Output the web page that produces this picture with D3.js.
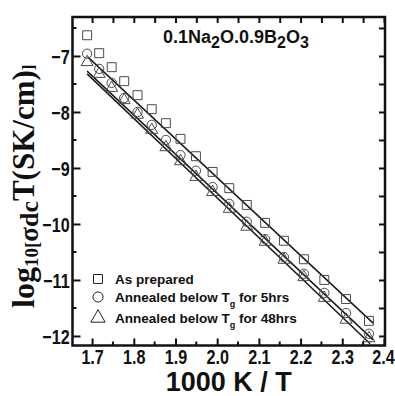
<!DOCTYPE html>
<html>
<head>
<meta charset="utf-8">
<script src="https://cdn.jsdelivr.net/npm/d3@7"></script>
<style>
  body { margin: 0; background: #fff; }
  svg { display: block; }
  .tick text { font-family: "Liberation Sans", Arial, sans-serif; font-weight: bold; font-size: 17px; fill: #111; }
</style>
</head>
<body>
<div id="chart"></div>
<script>
// 1000/T values (same temperatures for all three samples)
const invT = [1.688, 1.717, 1.747, 1.777, 1.809, 1.843, 1.877, 1.912, 1.949,
              1.989, 2.029, 2.071, 2.115, 2.160, 2.208, 2.257, 2.309, 2.364]

const asPrepared = [-6.63, -6.95, -7.20, -7.45, -7.70, -7.95, -8.20, -8.48, -8.79,
                    -9.07, -9.36, -9.66, -9.98, -10.30, -10.63, -11.00, -11.34, -11.73]
const annealed5 = [-6.96, -7.23, -7.48, -7.75, -8.00, -8.23, -8.50, -8.77, -9.05,
                   -9.34, -9.64, -9.96, -10.27, -10.59, -10.89, -11.23, -11.59, -11.96]
const annealed48 = [-7.11, -7.32, -7.57, -7.79, -8.05, -8.32, -8.63, -8.88, -9.16,
                    -9.43, -9.73, -10.05, -10.32, -10.64, -10.95, -11.32, -11.71, -12.04]

// straight-line fits: [x0, x1] and [y0, y1]
const fitX = [[1.690, 2.374], [1.688, 2.374], [1.688, 2.367]]
const fitY = [[-7.02, -11.77], [-7.27, -12.07], [-7.32, -12.14]]

const xMajor = [1.7, 1.8, 1.9, 2.0, 2.1, 2.2, 2.3, 2.4]
const xMinor = [1.75, 1.85, 1.95, 2.05, 2.15, 2.25, 2.35]
const yMajor = [-7, -8, -9, -10, -11, -12]
const yMinor = [-6.5, -7.5, -8.5, -9.5, -10.5, -11.5]

const legendLabels = ['As prepared', 'Annealed below T|g| for 5hrs', 'Annealed below T|g| for 48hrs']

// config
const w = 395, h = 396
const m = {left: 72.5, right: 385, top: 17, bottom: 345.5}

const x = d3.scaleLinear().domain([1.653, 2.4025]).range([m.left, m.right])
const y = d3.scaleLinear().domain([-12.17, -6.304]).range([m.bottom, m.top])

const svg = d3.select('#chart').append('svg')
    .attr('width', w).attr('height', h)

const markColour = '#4a4a4a'
const symbols = [d3.symbolSquare, d3.symbolCircle, d3.symbolTriangle]
const symSize = [80, 68, 62]
const series = [asPrepared, annealed5, annealed48]

// fit lines
const line = d3.line().x(d => x(d[0])).y(d => y(d[1]))
fitX.forEach((fx, i) => {
    svg.append('path')
        .attr('d', line([[fx[0], fitY[i][0]], [fx[1], fitY[i][1]]]))
        .attr('fill', 'none')
        .attr('stroke', '#1a1a1a')
        .attr('stroke-width', 1.5)
})

// points
series.forEach((vals, i) => {
    svg.append('g').selectAll('path')
        .data(vals)
        .join('path')
        .attr('transform', (d, j) => `translate(${x(invT[j])},${y(d)})`)
        .attr('d', d3.symbol().type(symbols[i]).size(symSize[i]))
        .attr('fill', 'none')
        .attr('stroke', markColour)
        .attr('stroke-width', 1)
})

// axes (ticks point inwards)
const bottomAxis = svg.append('g')
    .attr('transform', `translate(0,${m.bottom})`)
    .call(d3.axisBottom(x).tickValues(xMajor).tickSize(-7).tickPadding(3)
        .tickFormat(d3.format('.1f')))
bottomAxis.append('g').selectAll('line')
    .data(xMinor).join('line')
    .attr('x1', d => x(d)).attr('x2', d => x(d))
    .attr('y1', 0).attr('y2', -4)

const leftAxis = svg.append('g')
    .attr('transform', `translate(${m.left},0)`)
    .call(d3.axisLeft(y).tickValues(yMajor).tickSize(-8).tickPadding(3)
        .tickFormat(d3.format('d')))
leftAxis.append('g').selectAll('line')
    .data(yMinor).join('line')
    .attr('x1', 0).attr('x2', 4)
    .attr('y1', d => y(d)).attr('y2', d => y(d))

svg.append('g')
    .attr('transform', `translate(0,${m.top})`)
    .call(d3.axisTop(x).tickValues(xMajor.concat(xMinor)).tickSize(-6).tickFormat(''))
svg.append('g')
    .attr('transform', `translate(${m.right},0)`)
    .call(d3.axisRight(y).tickValues(yMajor.concat(yMinor)).tickSize(-6).tickFormat(''))

svg.selectAll('.domain').remove()
svg.selectAll('g line').attr('stroke', '#111').attr('stroke-width', 2)
leftAxis.selectAll('.tick text').attr('dy', '0.36em')
// tick labels in the original are tall and narrow
svg.selectAll('.tick text').attr('transform', 'scale(0.95,1.2)')
bottomAxis.selectAll('.tick').filter(d => d == 2.4).select('text').attr('x', -1)

// frame
svg.append('rect')
    .attr('x', m.left).attr('y', m.top)
    .attr('width', m.right - m.left).attr('height', m.bottom - m.top)
    .attr('fill', 'none')
    .attr('stroke', '#111')
    .attr('stroke-width', 2.5)

// title
const sans = '"Liberation Sans", Arial, sans-serif'
const title = svg.append('text')
    .attr('x', 163).attr('y', 43)
    .attr('font-family', sans).attr('font-weight', 'bold')
    .attr('font-size', 18).attr('fill', '#111')
const parts = [['0.1Na', 0], ['2', 1], ['O.0.9B', 0], ['2', 1], ['O', 0], ['3', 1]]
let shifted = false
parts.forEach(p => {
    const dy = p[1] ? 5 : (shifted ? -5 : 0)
    shifted = !!p[1]
    title.append('tspan')
        .attr('font-size', p[1] ? 16 : 18)
        .attr('dy', dy)
        .text(p[0])
})

// x title
svg.append('text')
    .attr('x', (m.left + m.right) / 2).attr('y', 391)
    .attr('text-anchor', 'middle')
    .attr('font-family', sans).attr('font-weight', 'bold')
    .attr('font-size', 27).attr('fill', '#111')
    .text('1000 K / T')

// y title
const serif = '"Liberation Serif", "Times New Roman", serif'
const yt = svg.append('text')
    .attr('transform', `translate(34,${(m.top + m.bottom) / 2 + 5}) rotate(-90)`)
    .attr('text-anchor', 'middle')
    .attr('font-family', serif).attr('font-weight', 'bold')
    .attr('font-size', 32).attr('fill', '#111')
yt.append('tspan').text('log')
yt.append('tspan').attr('font-size', 19).attr('dy', 4).text('10[')
yt.append('tspan').attr('font-size', 27).attr('dy', 0).text('σ')
yt.append('tspan').attr('font-size', 26).text('dc')
yt.append('tspan').attr('font-size', 31).attr('dy', -4).text('T(SK/cm)')
yt.append('tspan').attr('font-size', 17).text(']')

// legend
const legY = [279, 297, 318]
legendLabels.forEach((lab, i) => {
    svg.append('path')
        .attr('transform', `translate(98,${legY[i]})`)
        .attr('d', d3.symbol().type(symbols[i]).size(i == 2 ? 90 : 80))
        .attr('fill', 'none')
        .attr('stroke', '#222')
        .attr('stroke-width', 1)
    const t = svg.append('text')
        .attr('x', 115).attr('y', legY[i] + 5)
        .attr('font-family', sans).attr('font-weight', 'bold')
        .attr('font-size', 13.5).attr('fill', '#111')
    const bits = lab.split('|')
    t.append('tspan').text(bits[0])
    if (bits.length > 1) {
        t.append('tspan').attr('font-size', 9).attr('dy', 5).text(bits[1])
        t.append('tspan').attr('dy', -5).text(bits[2])
    }
})
</script>
</body>
</html>
